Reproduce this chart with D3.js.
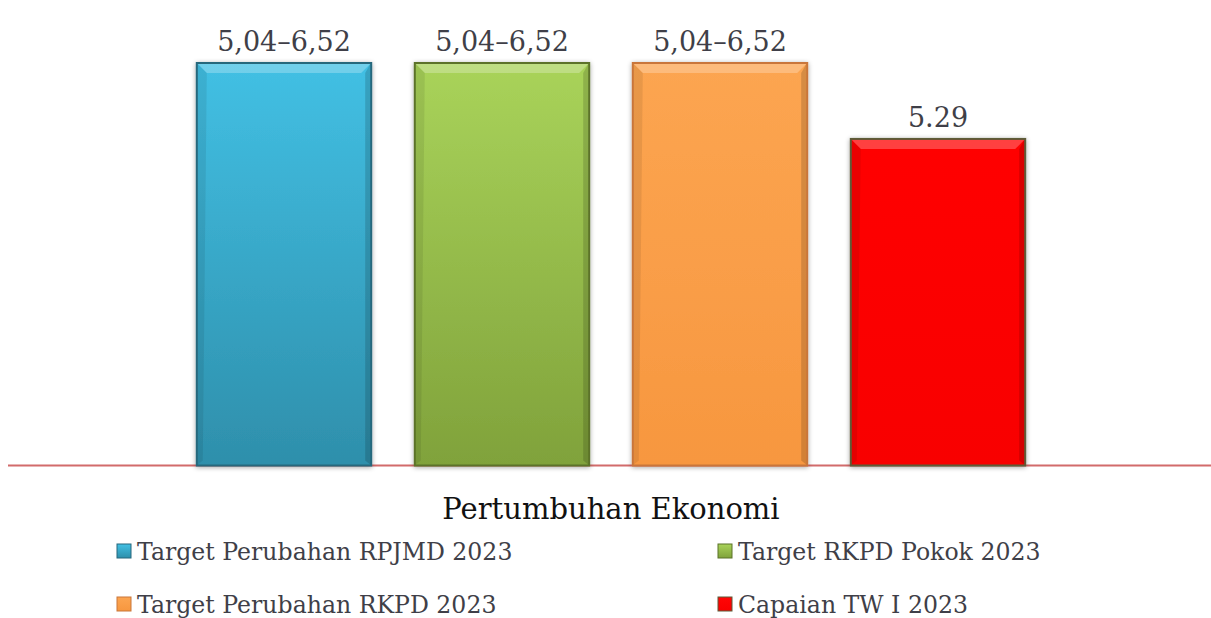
<!DOCTYPE html>
<html>
<head>
<meta charset="utf-8">
<script src="https://cdn.jsdelivr.net/npm/d3@7"></script>
<style>
  body { margin: 0; background: #fff; }
  svg { display: block; }
</style>
</head>
<body>
<div id="chart"></div>
<script>
// chart data
var categories = ["Target Perubahan RPJMD 2023", "Target RKPD Pokok 2023", "Target Perubahan RKPD 2023", "Capaian TW I 2023"];
var values = [6.52, 6.52, 6.52, 5.29];
var labels = ["5,04\u20136,52", "5,04\u20136,52", "5,04\u20136,52", "5.29"];
var axisTitle = "Pertumbuhan Ekonomi";

var colTop = ["#42c0e4", "#a9d35a", "#fca551", "#ff0606"];
var colBot = ["#2e8fab", "#80a23b", "#f7973f", "#f80000"];
var colEdge = ["#27677c", "#5b7229", "#c9763a", "#5d5b38"];

var width = 1211, height = 618;
var baseY = 465.5, topY = 63;

var svg = d3.select("#chart").append("svg")
    .attr("width", width)
    .attr("height", height);

var defs = svg.append("defs");
categories.forEach(function (c, i) {
    var g = defs.append("linearGradient").attr("id", "g" + i)
        .attr("x1", 0).attr("y1", 0).attr("x2", 0).attr("y2", 1);
    g.append("stop").attr("offset", "0%").attr("stop-color", colTop[i]);
    g.append("stop").attr("offset", "100%").attr("stop-color", colBot[i]);
});
var f = defs.append("filter").attr("id", "shadow")
    .attr("x", "-10%").attr("y", "-10%").attr("width", "120%").attr("height", "120%");
f.append("feGaussianBlur").attr("in", "SourceAlpha").attr("stdDeviation", 2.5);
f.append("feOffset").attr("dx", 0).attr("dy", 1).attr("result", "b");
f.append("feComponentTransfer").append("feFuncA").attr("type", "linear").attr("slope", 0.35);
var fm = f.append("feMerge");
fm.append("feMergeNode");
fm.append("feMergeNode").attr("in", "SourceGraphic");

var x = d3.scaleBand()
    .domain(categories)
    .range([175, 1047])
    .paddingInner(0.2)
    .paddingOuter(0.1);

var y = d3.scaleLinear()
    .domain([0, 6.52])
    .range([baseY, topY]);

// baseline
svg.append("line")
    .attr("x1", 8).attr("x2", width)
    .attr("y1", baseY).attr("y2", baseY)
    .attr("stroke", "#d26b6b")
    .attr("stroke-width", 2);

var bars = svg.selectAll("g.bar")
    .data(values)
    .enter().append("g")
    .attr("class", "bar");

bars.append("rect")
    .attr("x", function (d, i) { return x(categories[i]); })
    .attr("y", function (d) { return y(d); })
    .attr("width", x.bandwidth())
    .attr("height", function (d) { return baseY - y(d); })
    .attr("fill", function (d, i) { return "url(#g" + i + ")"; })
    .attr("stroke", function (d, i) { return colEdge[i]; })
    .attr("stroke-width", 2)
    .attr("filter", "url(#shadow)");

// bevel on top edge
var bev = 9;
bars.append("polygon")
    .attr("points", function (d, i) {
        var x0 = x(categories[i]) + 1, x1 = x0 + x.bandwidth() - 2, y0 = y(d) + 1;
        return [[x0, y0], [x1, y0], [x1 - bev, y0 + bev], [x0 + bev, y0 + bev]].join(" ");
    })
    .attr("fill", "#fff")
    .attr("opacity", 0.25);
// darker sides
bars.append("polygon")
    .attr("points", function (d, i) {
        var x1 = x(categories[i]) + x.bandwidth() - 1, y0 = y(d) + 1;
        return [[x1, y0], [x1, baseY - 1], [x1 - 5, baseY - 5], [x1 - 5, y0 + bev]].join(" ");
    })
    .attr("fill", "#000")
    .attr("opacity", 0.15);
bars.append("polygon")
    .attr("points", function (d, i) {
        var x0 = x(categories[i]) + 1, y0 = y(d) + 1;
        return [[x0, y0], [x0 + bev, y0 + bev], [x0 + 5, baseY - 5], [x0, baseY - 1]].join(" ");
    })
    .attr("fill", "#000")
    .attr("opacity", 0.08);

// value labels
svg.selectAll("text.val")
    .data(labels)
    .enter().append("text")
    .attr("class", "val")
    .attr("x", function (d, i) { return x(categories[i]) + x.bandwidth() / 2; })
    .attr("y", function (d, i) { return y(values[i]) - 12; })
    .attr("text-anchor", "middle")
    .style("font", "27px 'DejaVu Serif', serif")
    .style("fill", "#3f3f48")
    .text(function (d) { return d; });

// axis title
svg.append("text")
    .attr("x", 611)
    .attr("y", 519)
    .attr("text-anchor", "middle")
    .style("font", "29px 'DejaVu Serif', serif")
    .style("fill", "#111")
    .text(axisTitle);

// legend
var legX = [117, 718], legY = [551, 604];
var order = [0, 1, 2, 3];
var leg = svg.selectAll("g.leg")
    .data(order)
    .enter().append("g")
    .attr("class", "leg")
    .attr("transform", function (d) {
        return "translate(" + legX[d % 2] + "," + legY[Math.floor(d / 2)] + ")";
    });
leg.append("rect")
    .attr("x", 0).attr("y", -7)
    .attr("width", 14).attr("height", 14)
    .attr("fill", function (d) { return "url(#g" + d + ")"; })
    .attr("stroke", function (d) { return colEdge[d]; })
    .attr("stroke-width", 1);
leg.append("text")
    .attr("x", 20).attr("y", 9)
    .style("font", "23.6px 'DejaVu Serif', serif")
    .style("fill", "#3f3f48")
    .text(function (d) { return categories[d]; });
</script>
</body>
</html>
